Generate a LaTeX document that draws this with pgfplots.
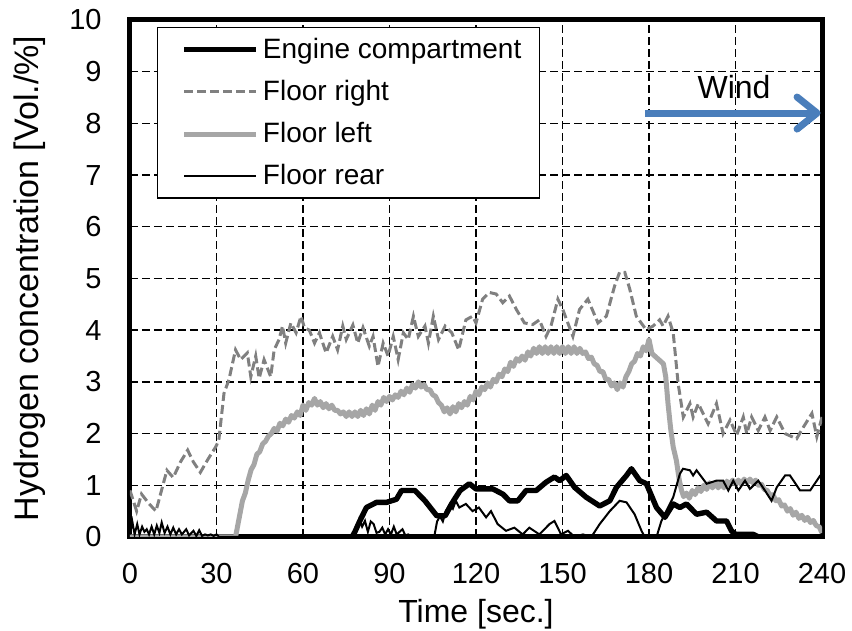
\documentclass[border=0pt]{standalone}
\usepackage{pgfplots}
\pgfplotsset{compat=1.18}
\usepackage{fontspec}
\setmainfont{Liberation Sans}
\usetikzlibrary{arrows.meta}
\definecolor{fr}{HTML}{808080}
\definecolor{fl}{HTML}{A6A6A6}
\definecolor{wind}{HTML}{4A7EBB}

\pgfplotstableread{
t v
0 0
77 0
78 0.1
79.7 0.31
82 0.57
85.5 0.67
89 0.67
92.4 0.73
94.2 0.9
98.8 0.9
102.3 0.7
106.4 0.41
109.3 0.41
112.2 0.7
114.5 0.9
117.7 1.03
120 0.93
125.8 0.93
129.3 0.83
131.6 0.7
134.5 0.7
137.4 0.9
140.9 0.9
144.3 1.06
147.2 1.16
149 1.09
151.3 1.19
154.2 0.96
158.2 0.77
162.9 0.6
166.4 0.7
168.7 0.96
172.2 1.19
173.9 1.32
176.8 1.09
179.1 1.03
182.6 0.57
185.5 0.38
188.4 0.64
190.7 0.57
193 0.64
196.5 0.44
200 0.48
203.4 0.31
206.9 0.31
208.6 0.12
210 0.05
216.2 0.05
218 0
240 0
}\engine

\pgfplotstableread{
t v
0 0.9
2.3 0.5
4 0.83
6.5 0.65
9 0.5
12.8 1.29
15 1.15
17.5 1.45
20 1.68
22 1.45
24.4 1.25
27 1.5
29.7 1.74
30.8 1.87
32.6 2.78
34.3 3.04
36.6 3.62
38.4 3.43
40.7 3.56
41.9 3.1
43.6 3.5
44.8 3.07
46.5 3.43
48.8 3.1
50 3.62
51.7 3.82
52.9 4.08
54 3.75
55.8 4.14
57.6 3.95
59.3 4.27
60.5 4.05
62.2 4.0
64 3.75
65.7 3.95
68 3.56
70.3 3.88
72 3.62
73.8 4.08
75 3.82
77.3 4.1
79 3.75
80.8 4.05
83 3.69
84.3 3.88
86 3.3
87.8 3.75
89.5 3.5
91.3 3.88
93 3.43
94.8 3.95
96.5 3.82
98.3 4.27
100 3.88
102.3 4.08
103.5 3.75
105.2 4.27
107 3.82
109.3 4.08
111.6 3.95
114 3.62
116.5 4.2
118.8 4.27
120 4.14
122.3 4.6
124.6 4.73
127 4.7
129.3 4.53
131.6 4.66
134 4.4
136.8 4.14
139.7 4.11
142 4.2
144.3 3.88
146 4.08
148.4 4.6
150.1 4.4
153.6 3.88
155.9 4.4
158.8 4.6
162.3 4.14
165.2 4.27
168.1 4.86
169.8 5.12
171.6 5.12
173.3 4.8
175.6 4.27
179 4.01
181.4 4.08
183.7 4.2
184.9 4.08
186.6 4.27
188.4 3.95
190.1 2.97
191.9 2.32
194.2 2.58
195.3 2.32
197.1 2.58
200.5 2.19
203.4 2.58
205.7 2.0
208.1 2.26
210.4 1.97
212.7 2.32
213.9 2.0
215.6 2.32
217.9 2.06
220.2 2.32
222 2.06
224.3 2.32
227.2 2.0
231.2 1.9
233.6 2.13
236.5 2.39
238.2 1.94
240 2.32
}\floorright

\pgfplotstableread{
t v
0 0
36.6 0
39 0.7
40 0.85
41 1.1
42 1.3
43 1.4
44 1.6
45 1.65
46 1.8
47 1.85
48 1.95
49 2.0
50 2.1
51 2.05
52 2.2
53 2.15
54 2.28
55 2.22
56 2.35
57 2.3
58 2.42
59 2.35
60 2.55
61 2.45
62 2.6
63 2.55
64 2.68
65 2.55
66 2.62
67 2.5
68 2.58
69 2.48
70 2.55
71 2.45
72 2.45
73 2.38
74 2.42
75 2.33
76 2.42
77 2.33
78 2.42
79 2.33
80 2.45
81 2.35
82 2.48
83 2.38
84 2.55
85 2.45
86 2.62
87 2.55
88 2.7
89 2.62
90 2.72
91 2.65
92 2.75
93 2.7
94 2.82
95 2.75
96 2.88
97 2.8
98 2.95
99 2.88
100 3.0
101 2.9
102 2.95
103 2.85
104 2.85
105 2.75
106 2.72
107 2.6
108 2.55
109 2.42
110 2.5
111 2.38
112 2.52
113 2.42
114 2.58
115 2.5
116 2.62
117 2.55
118 2.72
119 2.65
120 2.82
121 2.75
122 2.9
123 2.85
124 2.98
125 2.9
126 3.05
127 3.0
128 3.15
129 3.1
130 3.25
131 3.2
132 3.38
133 3.3
134 3.45
135 3.4
136 3.5
137 3.42
138 3.58
139 3.5
140 3.65
141 3.55
142 3.68
143 3.55
144 3.68
145 3.55
146 3.68
147 3.55
148 3.68
149 3.55
150 3.68
151 3.55
152 3.68
153 3.55
154 3.68
155 3.55
156 3.65
157 3.55
158 3.58
159 3.45
160 3.48
161 3.35
162 3.32
163 3.2
164 3.2
165 3.05
166 3.05
167 2.92
168 2.98
169 2.85
170 2.98
171 2.9
172 3.1
173 3.2
174 3.35
175 3.4
176 3.55
177 3.5
178 3.68
179 3.6
180 3.82
181 3.55
182 3.5
183 3.45
184 3.4
185 3.35
185.8 3.1
186.6 2.58
187.5 2.1
188.4 1.74
189.5 1.48
190.5 1.1
191.3 0.9
192 0.78
193 0.85
194 0.75
195 0.9
196 0.82
197 0.95
198 0.88
199 1.0
200 0.92
201 1.05
202 0.95
203 1.05
204 0.95
205 1.05
206 0.95
207 1.08
208 1.0
209 1.1
210 1.02
211 1.1
212 1.02
213 1.12
214 1.05
215 1.12
216 1.05
217 1.1
218 1.0
219 1.02
220 0.92
221 0.9
222 0.8
223 0.82
224 0.7
225 0.72
226 0.6
227 0.62
228 0.5
229 0.55
230 0.42
231 0.48
232 0.36
233 0.42
234 0.32
235 0.38
236 0.28
237 0.32
238 0.22
239 0.2
240 0.08
}\floorleft

\pgfplotstableread{
t v
0 0.05
0.8 0.3
1.6 0.05
2.5 0.25
3.3 0.05
4.2 0.2
5 0.1
5.8 0.15
6.6 0.05
7.5 0.2
8.4 0.05
9.3 0.22
10.2 0.08
11 0.28
12 0.08
13 0.2
14 0.05
15 0.18
16 0.05
17 0.15
18 0.05
19.5 0.15
20.5 0.03
22 0.12
23 0.02
24 0.13
25 0.02
26 0.05
27 0.03
28 0.05
29 0.02
30 0.05
31 0
76 0
77 0.05
78 0.1
79.5 0.35
80.5 0.2
81.5 0.31
82.5 0.1
83.5 0.3
84.5 0.25
85.5 0.08
86.5 0.1
87.5 0.18
88.5 0.05
89.5 0.15
90.5 0.05
91.5 0.2
92.5 0.05
93.5 0.1
94.5 0.15
95.5 0.03
96.5 0.05
97.5 0
105.5 0
106.5 0.3
107.5 0.4
108.5 0.3
109.5 0.5
111 0.65
112 0.55
113 0.7
114.2 0.57
116.5 0.64
118.8 0.5
121 0.57
123.5 0.38
125.2 0.5
127.5 0.25
130.4 0.12
133.3 0.18
136.2 0.05
138.5 0.18
142 0.05
145.5 0.25
147.2 0.31
149.5 0.05
151.9 0.12
154.2 0
157.1 0.05
160 0
162.9 0.25
166.4 0.5
169.8 0.7
172.2 0.67
175 0.44
177.4 0.12
178.5 0
182.6 0
184.3 0.31
188.4 0.77
190.7 1.22
191.8 1.32
194.2 1.29
195.3 1.19
196.5 1.29
200 1.03
203.4 1.09
205.7 1.09
207.5 0.9
209.2 1.09
211 0.9
213.3 1.09
215 0.93
217.9 1.09
220.2 0.9
222.5 0.7
224.3 0.96
227.2 1.19
228.9 1.19
232.4 0.9
235.9 0.9
239.4 1.19
240 1.2
}\floorrear

\begin{document}
\begin{tikzpicture}
\begin{axis}[
  name=ax,
  scale only axis,
  width=346pt, height=258.5pt,
  xmin=0, xmax=240, ymin=0, ymax=10,
  xtick={0,30,...,240}, ytick={0,1,...,10},
  major tick length=0pt,
  axis line style={line width=2.5pt},
  grid=major,
  major grid style={black, line width=0.7pt, dash pattern=on 4pt off 2pt},
  tick label style={font=\fontsize{14.5}{16}\selectfont},
  /pgf/number format/assume math mode=true,
  yticklabel style={inner xsep=0pt, xshift=-14pt},
  xticklabel style={inner ysep=0pt, yshift=-13pt},
  xlabel={Time [sec.]},
  ylabel={Hydrogen concentration [Vol./\%]},
  xlabel style={font=\fontsize{16}{18}\selectfont, at={(axis description cs:0.5,0)}, anchor=north, inner sep=0pt, yshift=-31pt},
  ylabel style={font=\fontsize{17}{19}\selectfont, at={(axis description cs:-0.1445,0.5)}, anchor=center, inner sep=0pt},
  legend cell align=left,
  legend style={at={(0.039,0.986)}, anchor=north west, draw=black, line width=0.6pt, fill=white,
    font=\fontsize{14}{16}\selectfont, row sep=5.5pt, inner xsep=7pt, inner ysep=3pt,
    /tikz/every even column/.append style={column sep=3pt}},
  legend image code/.code={\path (0pt,0pt); \draw[#1] (5pt,0pt) -- (41pt,0pt);},
]
\addplot[black, line width=2.7pt, line join=round] table[x=t,y=v] {\engine};
\addlegendentry{Engine compartment}
\addplot[fr, line width=1.5pt, dash pattern=on 4.5pt off 2pt] table[x=t,y=v] {\floorright};
\addlegendentry{Floor right}
\addplot[fl, line width=2.5pt, line join=round] table[x=t,y=v] {\floorleft};
\addlegendentry{Floor left}
\addplot[black, line width=1pt] table[x=t,y=v] {\floorrear};
\addlegendentry{Floor rear}
\draw[wind, line width=3.5pt, -{Straight Barb[length=10pt, width=16pt, round]}] (axis cs:178.6,8.2) -- (axis cs:239.5,8.2);
\node[font=\fontsize{16}{18}\selectfont] at (axis cs:209.5,8.7) {Wind};
\end{axis}
\pgfresetboundingbox
\useasboundingbox ([shift={(-65pt,-47pt)}]ax.south west) rectangle ([shift={(15pt,10pt)}]ax.north east);
\end{tikzpicture}
\end{document}
